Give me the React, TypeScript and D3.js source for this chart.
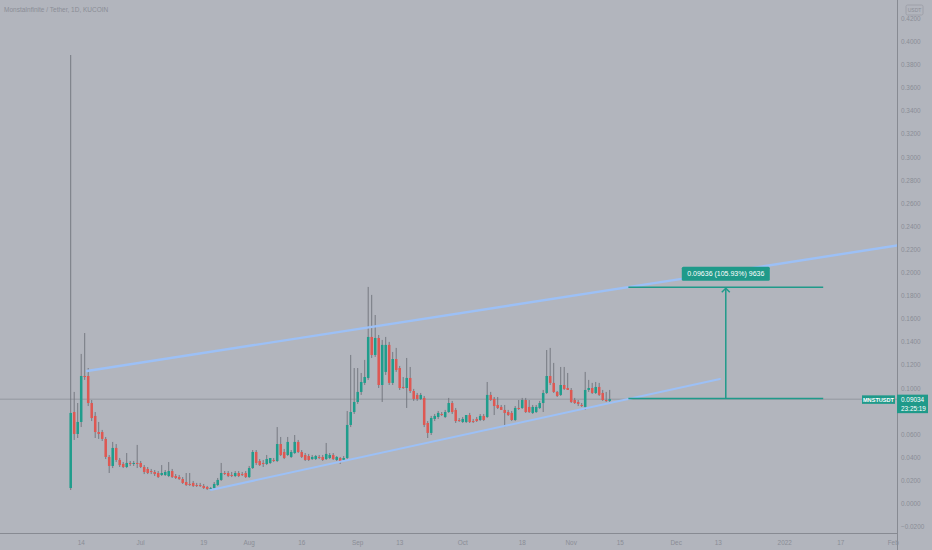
import { useEffect, useRef } from "react";
import * as d3 from "d3";

const WIDTH = 932;
const HEIGHT = 550;

const title = "MonstaInfinite / Tether, 1D, KUCOIN";
const symbol = "MNSTUSDT";
const currency = "USDT";
const lastPrice = 0.09034;
const countdown = "23:25:19";

// daily candles starting 2021-06-11
const firstDay = "2021-06-11";
const opens = [
  0.0134, 0.0792, 0.0602, 0.0706, 0.1104, 0.1104, 0.087, 0.0758, 0.0619, 0.0619,
  0.0559, 0.0403, 0.0325, 0.0481, 0.0377, 0.0342, 0.0316, 0.0351, 0.0342, 0.0351,
  0.0351, 0.0316, 0.0299, 0.0281, 0.0273, 0.0264, 0.0247, 0.0247, 0.0238, 0.0281,
  0.0238, 0.0229, 0.0212, 0.0186, 0.0169, 0.0178, 0.016, 0.016, 0.0152, 0.0143,
  0.0126, 0.0134, 0.016, 0.0204, 0.0264, 0.0264, 0.0247, 0.0238, 0.0264, 0.0255,
  0.0264, 0.0229, 0.0307, 0.0446, 0.0368, 0.0351, 0.0342, 0.0351, 0.0377, 0.0368,
  0.0515, 0.0446, 0.042, 0.0403, 0.0437, 0.0533, 0.0446, 0.042, 0.0411, 0.0385,
  0.0385, 0.0403, 0.0403, 0.0385, 0.0394, 0.042, 0.0377, 0.0394, 0.0377, 0.0394,
  0.068, 0.0792, 0.0879, 0.0966, 0.1044, 0.1087, 0.1442, 0.1286, 0.1433, 0.1026,
  0.1139, 0.1373, 0.1044, 0.1251, 0.1173, 0.1009, 0.1, 0.1087, 0.0974, 0.094,
  0.0905, 0.0914, 0.0697, 0.0611, 0.0732, 0.0749, 0.0775, 0.0749, 0.0792, 0.087,
  0.081, 0.0723, 0.0706, 0.0706, 0.0766, 0.0714, 0.0732, 0.0723, 0.0758, 0.0749,
  0.094, 0.0905, 0.0853, 0.0836, 0.081, 0.0792, 0.0784, 0.0723, 0.0827, 0.0827,
  0.0896, 0.0836, 0.0784, 0.0792, 0.0827, 0.087, 0.0957, 0.1104, 0.1044, 0.0966,
  0.094, 0.1026, 0.1, 0.0983, 0.0896, 0.0879, 0.0853, 0.0836, 0.0983, 0.1,
  0.0957, 0.1009, 0.0957, 0.0896, 0.0888,
];
const highs = [
  0.3883, 0.0966, 0.087, 0.1295, 0.1476, 0.1173, 0.0896, 0.0792, 0.0706, 0.0637,
  0.0576, 0.042, 0.0533, 0.0515, 0.0394, 0.0359, 0.0437, 0.0368, 0.0368, 0.0507,
  0.0368, 0.0333, 0.0316, 0.0299, 0.029, 0.0281, 0.0333, 0.029, 0.0359, 0.0299,
  0.0255, 0.0247, 0.0229, 0.0264, 0.0264, 0.0195, 0.0178, 0.0178, 0.0169, 0.0152,
  0.0143, 0.0186, 0.0221, 0.0351, 0.0281, 0.0281, 0.0273, 0.0281, 0.0281, 0.0273,
  0.0281, 0.0325, 0.0463, 0.0463, 0.0385, 0.0377, 0.042, 0.0394, 0.0394, 0.0662,
  0.0576, 0.0472, 0.0576, 0.0463, 0.0593, 0.055, 0.0463, 0.0437, 0.0429, 0.042,
  0.042, 0.042, 0.042, 0.0524, 0.0437, 0.0437, 0.0411, 0.0403, 0.0411, 0.0801,
  0.1286, 0.1173, 0.1173, 0.113, 0.1243, 0.1875, 0.1806, 0.1632, 0.1459, 0.1416,
  0.1442, 0.1399, 0.1312, 0.1347, 0.1191, 0.1095, 0.126, 0.1182, 0.0992, 0.0957,
  0.0957, 0.0931, 0.0714, 0.0758, 0.0775, 0.0801, 0.0792, 0.081, 0.0914, 0.0888,
  0.0827, 0.074, 0.0749, 0.0766, 0.0784, 0.0732, 0.0749, 0.0775, 0.0775, 0.1052,
  0.0966, 0.0922, 0.0922, 0.0853, 0.0853, 0.081, 0.0801, 0.0844, 0.0896, 0.0914,
  0.0914, 0.0896, 0.0853, 0.0853, 0.0888, 0.0983, 0.1329, 0.1347, 0.1217, 0.0974,
  0.1182, 0.1182, 0.113, 0.1, 0.0914, 0.0896, 0.087, 0.1139, 0.107, 0.1044,
  0.1052, 0.1044, 0.0983, 0.0966, 0.0983,
];
const lows = [
  0.0117, 0.055, 0.0567, 0.0662, 0.107, 0.0844, 0.0714, 0.0567, 0.0559, 0.0541,
  0.0385, 0.0264, 0.0307, 0.0359, 0.0316, 0.0307, 0.0307, 0.0325, 0.0325, 0.0307,
  0.0307, 0.0255, 0.0255, 0.0255, 0.0238, 0.0221, 0.0238, 0.0238, 0.0229, 0.0221,
  0.0212, 0.0204, 0.0169, 0.0152, 0.0152, 0.0143, 0.0143, 0.0143, 0.0126, 0.0117,
  0.0108, 0.0126, 0.0152, 0.0195, 0.0247, 0.0229, 0.0229, 0.0229, 0.0229, 0.0238,
  0.0221, 0.0221, 0.0299, 0.0333, 0.0325, 0.0316, 0.0333, 0.0342, 0.0359, 0.0359,
  0.0411, 0.0385, 0.0411, 0.0394, 0.0429, 0.0437, 0.0394, 0.0368, 0.0368, 0.0377,
  0.0377, 0.0385, 0.0368, 0.0377, 0.0385, 0.0377, 0.0368, 0.0342, 0.0368, 0.0385,
  0.0662, 0.0775, 0.0862, 0.094, 0.1026, 0.107, 0.126, 0.1269, 0.1, 0.0879,
  0.1113, 0.1026, 0.1026, 0.1139, 0.0983, 0.0992, 0.0827, 0.0957, 0.0888, 0.0888,
  0.0896, 0.0662, 0.0567, 0.0593, 0.0714, 0.0732, 0.0758, 0.074, 0.0784, 0.0775,
  0.0697, 0.0706, 0.0697, 0.0697, 0.0697, 0.0697, 0.0706, 0.0714, 0.0714, 0.074,
  0.0888, 0.0766, 0.0818, 0.081, 0.0662, 0.0758, 0.0714, 0.0714, 0.081, 0.0818,
  0.0784, 0.0784, 0.0775, 0.0784, 0.0818, 0.0792, 0.0948, 0.1026, 0.0957, 0.0922,
  0.0931, 0.0983, 0.0983, 0.087, 0.0862, 0.0844, 0.0836, 0.081, 0.0966, 0.0948,
  0.0948, 0.0931, 0.0888, 0.0879, 0.0879,
];
const closes = [
  0.0784, 0.0602, 0.0706, 0.1104, 0.1095, 0.087, 0.074, 0.0619, 0.0602, 0.0559,
  0.0403, 0.0325, 0.0481, 0.0377, 0.0333, 0.0316, 0.0351, 0.0342, 0.0351, 0.0342,
  0.0316, 0.0273, 0.0264, 0.0273, 0.0255, 0.0229, 0.0264, 0.0273, 0.0281, 0.0229,
  0.0221, 0.0212, 0.0178, 0.016, 0.0163, 0.0152, 0.0156, 0.0156, 0.0134, 0.0126,
  0.0134, 0.0169, 0.0204, 0.0264, 0.026, 0.0238, 0.0242, 0.0264, 0.0238, 0.0251,
  0.0229, 0.0307, 0.0446, 0.0351, 0.0333, 0.0342, 0.0385, 0.0394, 0.0372, 0.0515,
  0.042, 0.0394, 0.0533, 0.0446, 0.0533, 0.0446, 0.0403, 0.0377, 0.0377, 0.0403,
  0.0411, 0.0398, 0.0377, 0.0429, 0.042, 0.0385, 0.0403, 0.0359, 0.0394, 0.068,
  0.0792, 0.0879, 0.0966, 0.1052, 0.1095, 0.1442, 0.1286, 0.1433, 0.1026, 0.1373,
  0.1373, 0.1044, 0.1251, 0.1156, 0.1, 0.1005, 0.1087, 0.0974, 0.0905, 0.0905,
  0.094, 0.068, 0.0611, 0.074, 0.0758, 0.0784, 0.0771, 0.0792, 0.087, 0.0792,
  0.0714, 0.0719, 0.0732, 0.0766, 0.0706, 0.071, 0.0714, 0.0758, 0.0723, 0.094,
  0.0896, 0.0844, 0.0827, 0.081, 0.0784, 0.0766, 0.0723, 0.0827, 0.0823, 0.0896,
  0.0792, 0.0792, 0.0836, 0.0836, 0.087, 0.0957, 0.1104, 0.1044, 0.0966, 0.0931,
  0.1026, 0.0992, 0.0983, 0.0879, 0.087, 0.0862, 0.0849, 0.0983, 0.1, 0.0957,
  0.1009, 0.094, 0.0896, 0.0892, 0.0903,
];

const priceTicks = [
  -0.02, 0, 0.02, 0.04, 0.06, 0.08, 0.1, 0.12, 0.14, 0.16, 0.18, 0.2, 0.22, 0.24,
  0.26, 0.28, 0.3, 0.32, 0.34, 0.36, 0.38, 0.4, 0.42,
];
const timeTickDates = [
  "2021-06-14", "2021-07-01", "2021-07-19", "2021-08-01", "2021-08-16", "2021-09-01",
  "2021-09-13", "2021-10-01", "2021-10-18", "2021-11-01", "2021-11-15", "2021-12-01",
  "2021-12-13", "2022-01-01", "2022-01-17", "2022-02-01",
];
const timeTickLabels = [
  "14", "Jul", "19", "Aug", "16", "Sep", "13", "Oct", "18", "Nov", "15", "Dec", "13",
  "2022", "17", "Feb",
];

// drawings
const upperChannelDates = ["2021-06-15 16:00", "2022-02-03 00:00"];
const upperChannelPrices = [0.1147, 0.2238];
const lowerChannelDates = ["2021-07-21 00:00", "2021-12-13 12:00"];
const lowerChannelPrices = [0.0117, 0.1078];
const measureDates = ["2021-11-17 08:00", "2022-01-12 00:00"];
const measureBase = 0.0909;
const measureChange = 0.09636;
const measureLabel = "0.09636 (105.93%) 9636";

export default function App() {
  const svgRef = useRef<SVGSVGElement>(null);

  useEffect(() => {
    if (!svgRef.current) return;
    const svg = d3.select(svgRef.current);
    svg.selectAll("*").remove();

    const font = "'Liberation Sans', Arial, sans-serif";
    const bg = "#b2b5bd";
    const axisText = "#8a8d96";
    const up = "#1f9d8c";
    const down = "#de5852";
    const teal = "#1f9a8a";
    const blue = "#9cc0f6";

    const plotRight = 897;
    const plotBottom = 533;

    const parseDay = d3.utcParse("%Y-%m-%d");
    const parseTime = d3.utcParse("%Y-%m-%d %H:%M");
    const start = parseDay(firstDay)!;

    const x = d3
      .scaleUtc()
      .domain([start, parseDay("2022-02-01")!])
      .range([70.7, 893.2]);
    const y = d3.scaleLinear().domain([0, 0.42]).range([503.5, 18.4]);

    svg.append("rect").attr("width", WIDTH).attr("height", HEIGHT).attr("fill", bg);

    svg
      .append("defs")
      .append("clipPath")
      .attr("id", "plot")
      .append("rect")
      .attr("width", plotRight)
      .attr("height", plotBottom);

    const plot = svg.append("g").attr("clip-path", "url(#plot)");

    // last price line
    plot
      .append("line")
      .attr("x1", 0)
      .attr("x2", plotRight)
      .attr("y1", y(lastPrice))
      .attr("y2", y(lastPrice))
      .attr("stroke", "#8d9098")
      .attr("stroke-width", 0.8);

    // candles
    const candles = opens.map((o, i) => ({
      date: d3.utcDay.offset(start, i),
      open: o,
      high: highs[i],
      low: lows[i],
      close: closes[i],
    }));
    const dayW = x(d3.utcDay.offset(start, 1)) - x(start);
    const bodyW = dayW * 0.72;

    const cg = plot
      .selectAll(".candle")
      .data(candles)
      .enter()
      .append("g")
      .attr("class", "candle");

    cg.append("line")
      .attr("x1", (d) => x(d.date))
      .attr("x2", (d) => x(d.date))
      .attr("y1", (d) => y(d.high))
      .attr("y2", (d) => y(d.low))
      .attr("stroke", "#6c6f77")
      .attr("stroke-width", 0.85);

    cg.append("rect")
      .attr("x", (d) => x(d.date) - bodyW / 2)
      .attr("width", bodyW)
      .attr("y", (d) => y(Math.max(d.open, d.close)))
      .attr("height", (d) => Math.max(1, Math.abs(y(d.open) - y(d.close))))
      .attr("fill", (d) => (d.close >= d.open ? up : down));

    // channel lines
    const lineGen = d3
      .line<[Date, number]>()
      .x((d) => x(d[0]))
      .y((d) => y(d[1]));

    const upperPts: [Date, number][] = upperChannelDates.map((d, i) => [
      parseTime(d)!,
      upperChannelPrices[i],
    ]);
    const lowerPts: [Date, number][] = lowerChannelDates.map((d, i) => [
      parseTime(d)!,
      lowerChannelPrices[i],
    ]);

    plot
      .append("path")
      .attr("d", lineGen(upperPts))
      .attr("fill", "none")
      .attr("stroke", blue)
      .attr("stroke-width", 2.4)
      .attr("stroke-linecap", "round");
    plot
      .append("path")
      .attr("d", lineGen(lowerPts))
      .attr("fill", "none")
      .attr("stroke", blue)
      .attr("stroke-width", 2)
      .attr("stroke-linecap", "round");

    // measure tool
    const mx1 = x(parseTime(measureDates[0])!);
    const mx2 = x(parseTime(measureDates[1])!);
    const mMid = (mx1 + mx2) / 2;
    const yBase = y(measureBase);
    const yTop = y(measureBase + measureChange);
    const mg = plot.append("g").attr("stroke", teal).attr("stroke-width", 1.5).attr("fill", "none");
    mg.append("line").attr("x1", mx1).attr("x2", mx2).attr("y1", yBase).attr("y2", yBase);
    mg.append("line").attr("x1", mx1).attr("x2", mx2).attr("y1", yTop).attr("y2", yTop);
    mg.append("line").attr("x1", mMid).attr("x2", mMid).attr("y1", yBase).attr("y2", yTop + 1);
    mg.append("path").attr("d", `M${mMid - 4},${yTop + 5}L${mMid},${yTop + 1}L${mMid + 4},${yTop + 5}`);

    const lw = 88;
    plot
      .append("rect")
      .attr("x", mMid - lw / 2)
      .attr("y", yTop - 20.5)
      .attr("width", lw)
      .attr("height", 14)
      .attr("rx", 1.5)
      .attr("fill", teal);
    plot
      .append("text")
      .attr("x", mMid)
      .attr("y", yTop - 13.5)
      .attr("text-anchor", "middle")
      .attr("dominant-baseline", "central")
      .attr("font-family", font)
      .attr("font-size", 7)
      .attr("fill", "#ffffff")
      .text(measureLabel);

    // axis separators
    svg
      .append("line")
      .attr("x1", plotRight + 0.5)
      .attr("x2", plotRight + 0.5)
      .attr("y1", 0)
      .attr("y2", HEIGHT)
      .attr("stroke", "#878a92")
      .attr("stroke-width", 1);
    svg
      .append("line")
      .attr("x1", 0)
      .attr("x2", plotRight)
      .attr("y1", plotBottom + 0.5)
      .attr("y2", plotBottom + 0.5)
      .attr("stroke", "#878a92")
      .attr("stroke-width", 1);

    // title
    svg
      .append("text")
      .attr("x", 4)
      .attr("y", 12)
      .attr("font-family", font)
      .attr("font-size", 6.5)
      .attr("fill", axisText)
      .text(title);

    // price axis labels
    const fmt = d3.format(".4f");
    const priceY = y(lastPrice);
    svg
      .append("g")
      .selectAll("text")
      .data(priceTicks.filter((t) => Math.abs(y(t) - priceY - 4.5) > 12))
      .enter()
      .append("text")
      .attr("x", 901)
      .attr("y", (d) => y(d))
      .attr("dominant-baseline", "central")
      .attr("font-family", font)
      .attr("font-size", 6.4)
      .attr("fill", axisText)
      .text((d) => (d < 0 ? "\u2212" + fmt(-d) : fmt(d)));

    // time axis labels
    svg
      .append("g")
      .selectAll("text")
      .data(timeTickDates)
      .enter()
      .append("text")
      .attr("x", (d) => x(parseDay(d)!))
      .attr("y", 542)
      .attr("text-anchor", "middle")
      .attr("dominant-baseline", "central")
      .attr("font-family", font)
      .attr("font-size", 6.4)
      .attr("fill", axisText)
      .text((d, i) => timeTickLabels[i]);

    // currency box
    svg
      .append("rect")
      .attr("x", 906)
      .attr("y", 5)
      .attr("width", 17)
      .attr("height", 10)
      .attr("rx", 1.5)
      .attr("fill", "none")
      .attr("stroke", "#9a9da5")
      .attr("stroke-width", 0.8);
    svg
      .append("text")
      .attr("x", 914.5)
      .attr("y", 10.2)
      .attr("text-anchor", "middle")
      .attr("dominant-baseline", "central")
      .attr("font-family", font)
      .attr("font-size", 5)
      .attr("fill", axisText)
      .text(currency);

    // symbol label
    svg
      .append("rect")
      .attr("x", 862)
      .attr("y", priceY - 3.8)
      .attr("width", 33)
      .attr("height", 8.5)
      .attr("fill", teal);
    svg
      .append("text")
      .attr("x", 878.5)
      .attr("y", priceY + 0.5)
      .attr("text-anchor", "middle")
      .attr("dominant-baseline", "central")
      .attr("font-family", font)
      .attr("font-size", 5.6)
      .attr("font-weight", "bold")
      .attr("fill", "#ffffff")
      .text(symbol);

    // last price label
    svg
      .append("rect")
      .attr("x", plotRight)
      .attr("y", priceY - 4.5)
      .attr("width", 31)
      .attr("height", 18.5)
      .attr("fill", teal);
    svg
      .append("text")
      .attr("x", 901)
      .attr("y", priceY + 0.5)
      .attr("dominant-baseline", "central")
      .attr("font-family", font)
      .attr("font-size", 6.4)
      .attr("fill", "#ffffff")
      .text(lastPrice.toFixed(5));
    svg
      .append("text")
      .attr("x", 901)
      .attr("y", priceY + 9)
      .attr("dominant-baseline", "central")
      .attr("font-family", font)
      .attr("font-size", 6.4)
      .attr("fill", "#ffffff")
      .text(countdown);
  }, []);

  return (
    <div style={{ position: "fixed", left: 0, top: 0, width: WIDTH, height: HEIGHT }}>
      <svg ref={svgRef} width={WIDTH} height={HEIGHT} style={{ display: "block" }}></svg>
    </div>
  );
}
